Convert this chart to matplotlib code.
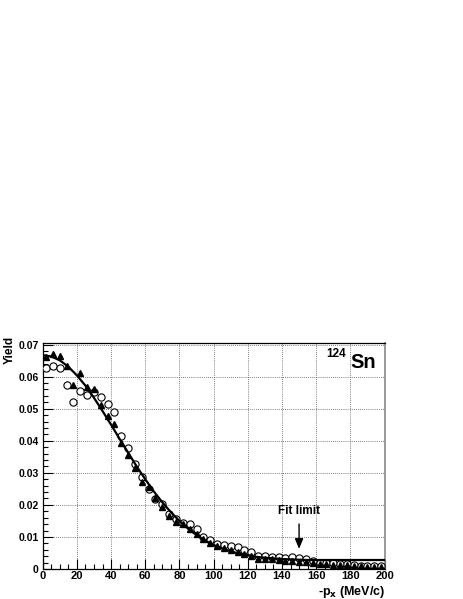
import numpy as np
import matplotlib
matplotlib.use("Agg")
import matplotlib.pyplot as plt
from matplotlib.ticker import MultipleLocator

plt.rcParams['font.family'] = ['Liberation Sans', 'DejaVu Sans']

# -p_x bins (MeV/c)
px = [2, 6, 10, 14, 18, 22, 26, 30, 34, 38, 42, 46, 50, 54, 58, 62, 66, 70, 74, 78,
      82, 86, 90, 94, 98, 102, 106, 110, 114, 118, 122, 126, 130, 134, 138, 142, 146, 150, 154, 158,
      162, 166, 170, 174, 178, 182, 186, 190, 194, 198]

# open circles
yield_open = [0.0628, 0.0633, 0.0627, 0.0575, 0.0521, 0.0555, 0.0544, 0.0552, 0.0537, 0.0516,
              0.0490, 0.0415, 0.0378, 0.0326, 0.0288, 0.0251, 0.0217, 0.0204, 0.0170, 0.0155,
              0.0144, 0.0140, 0.0125, 0.0100, 0.0091, 0.0079, 0.0075, 0.0072, 0.0068, 0.0060,
              0.0054, 0.0040, 0.0040, 0.0038, 0.0036, 0.0035, 0.0036, 0.0035, 0.0032, 0.0025,
              0.0020, 0.0018, 0.0018, 0.0016, 0.0016, 0.0012, 0.0009, 0.0008, 0.0008, 0.0008]
err_open = [0.0010, 0.0010, 0.0010, 0.0010, 0.0010, 0.0010, 0.0010, 0.0010, 0.0010, 0.0010,
            0.0009, 0.0009, 0.0009, 0.0008, 0.0008, 0.0008, 0.0007, 0.0007, 0.0007, 0.0006,
            0.0006, 0.0006, 0.0005, 0.0005, 0.0005, 0.0004, 0.0004, 0.0004, 0.0004, 0.0004,
            0.0003, 0.0003, 0.0003, 0.0003, 0.0003, 0.0003, 0.0003, 0.0003, 0.0003, 0.0003,
            0.0002, 0.0002, 0.0002, 0.0002, 0.0002, 0.0002, 0.0002, 0.0002, 0.0002, 0.0002]

# filled triangles
yield_full = [0.0661, 0.0670, 0.0665, 0.0632, 0.0575, 0.0610, 0.0568, 0.0560, 0.0510, 0.0477,
              0.0451, 0.0392, 0.0355, 0.0315, 0.0272, 0.0256, 0.0222, 0.0194, 0.0166, 0.0148,
              0.0140, 0.0125, 0.0108, 0.0092, 0.0082, 0.0072, 0.0064, 0.0058, 0.0052, 0.0048,
              0.0042, 0.0032, 0.0031, 0.0030, 0.0028, 0.0026, 0.0024, 0.0023, 0.0022, 0.0020,
              0.0016, 0.0015, 0.0014, 0.0013, 0.0012, 0.0010, 0.0008, 0.0007, 0.0006, 0.0006]

# fit curve
fit_x = [0, 5, 10, 15, 20, 25, 30, 35, 40, 45, 50, 55, 60, 65, 70, 75, 80, 85, 90, 95,
         100, 105, 110, 115, 120, 125, 130, 135, 140, 145, 150, 155, 160, 170, 180, 190, 200]
fit_y = [0.0667, 0.0663, 0.0651, 0.0631, 0.0604, 0.0572, 0.0534, 0.0493, 0.0450, 0.0406,
         0.0363, 0.0320, 0.0280, 0.0242, 0.0208, 0.0177, 0.0150, 0.0126, 0.0106, 0.0089,
         0.0075, 0.0064, 0.0055, 0.0048, 0.0043, 0.0038, 0.0035, 0.0033, 0.0031, 0.0030,
         0.0029, 0.0028, 0.0028, 0.0028, 0.0028, 0.0028, 0.0028]

fit_limit = 150

fig = plt.figure(figsize=(4.63, 5.99), dpi=100)
ax = fig.add_axes([0.0922, 0.0501, 0.7383, 0.3773])

ax.grid(True, which='major', color='#555555', linestyle=(0, (1, 1.5)), linewidth=0.6)
ax.set_axisbelow(True)

ax.errorbar(px, yield_open, yerr=err_open, fmt='o', mfc='white', mec='black',
            ecolor='black', ms=5.2, mew=0.8, elinewidth=0.7, capsize=0, zorder=3)
ax.plot(px, yield_full, '^', color='black', ms=4.5, zorder=4)
ax.plot(fit_x, fit_y, '-', color='black', lw=1.6, zorder=5)

ax.set_xlim(0, 200)
ax.set_ylim(0, 0.0705)
ax.xaxis.set_major_locator(MultipleLocator(20))
ax.xaxis.set_minor_locator(MultipleLocator(5))
ax.yaxis.set_major_locator(MultipleLocator(0.01))
ax.yaxis.set_minor_locator(MultipleLocator(0.002))
ax.yaxis.set_major_formatter(plt.FuncFormatter(lambda v, p: '0' if v == 0 else '%.2f' % v))

ax.tick_params(which='both', direction='in', top=False, right=False)
ax.tick_params(which='major', length=7, width=0.8)
ax.tick_params(which='minor', length=3.5, width=0.8)
ax.tick_params(axis='x', labelsize=8, pad=1.5)
ax.tick_params(axis='y', labelsize=7.5, pad=3)
for lab in ax.get_xticklabels() + ax.get_yticklabels():
    lab.set_fontweight('bold')

for s in ['left', 'bottom', 'top']:
    ax.spines[s].set_linewidth(0.9)
ax.spines['right'].set_color('#888888')
ax.spines['right'].set_linewidth(1.2)

fig.text(10 / 463, 1 - 336 / 599, 'Yield', rotation=90, ha='center', va='top',
         fontsize=8.5, fontweight='bold')
fig.text(385 / 463, 1 - 595 / 599, r'-p$_\mathbf{x}$ (MeV/c)', ha='right', va='baseline',
         fontsize=9, fontweight='bold')

fig.text(376 / 463, 1 - 368 / 599, 'Sn', ha='right', va='baseline', fontsize=14.5,
         fontweight='bold')
fig.text(346 / 463, 1 - 348 / 599, '124', ha='right', va='top', fontsize=8.5,
         fontweight='bold')

ax.text(fit_limit, 0.0173, 'Fit limit', ha='center', va='baseline', fontsize=8.5, fontweight='bold')
ax.annotate('', xy=(fit_limit, 0.0054), xytext=(fit_limit, 0.0149),
            arrowprops=dict(arrowstyle='-|>,head_width=0.25,head_length=0.6',
                            color='black', lw=1.0))

fig.savefig('out.png', dpi=100)
